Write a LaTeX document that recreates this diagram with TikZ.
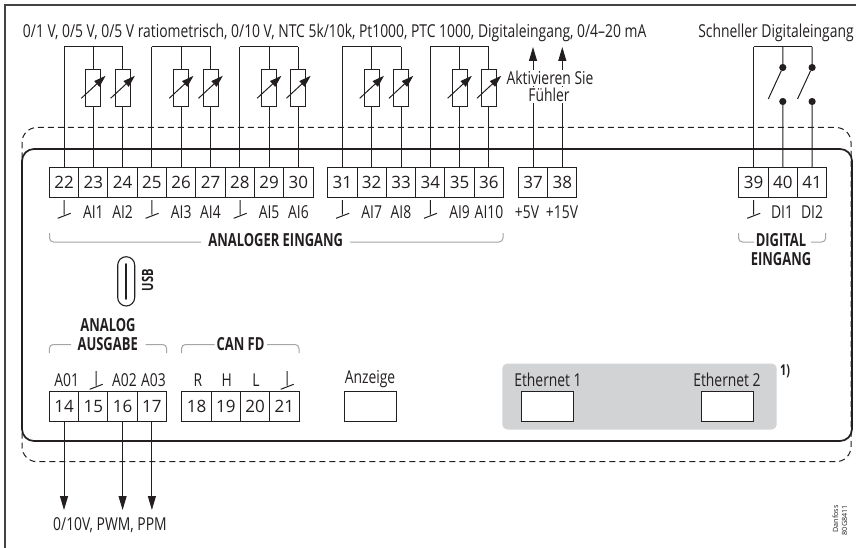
\documentclass[tikz,border=0pt]{standalone}
\usepackage{fontspec}
\usetikzlibrary{arrows.meta,calc}
\setmainfont{Open Sans}
\newfontfamily\cond[FakeStretch=0.78]{Open Sans}
\newfontfamily\condb[FakeStretch=0.72]{Open Sans Bold}
\definecolor{ink}{HTML}{231F20}
\definecolor{brk}{HTML}{A3A5A7}
\definecolor{greybox}{HTML}{D1D3D4}
\tikzset{
  ln/.style={draw=ink,line width=1pt},
  term/.style={draw=ink,line width=1pt,fill=white,minimum width=29.3pt,minimum height=29.8pt,inner sep=0pt,outer sep=0pt,text=ink,font=\fontsize{17}{18}\selectfont},
  res/.style={draw=ink,line width=1pt,fill=white,minimum width=15pt,minimum height=36.5pt,inner sep=0pt,outer sep=0pt},
  port/.style={draw=ink,line width=1pt,fill=white,minimum width=52.5pt,minimum height=29.8pt,inner sep=0pt,outer sep=0pt},
  lab/.style={inner sep=0pt,outer sep=0pt,anchor=base,text=ink,font=\fontsize{17.8}{19}\cond},
  blab/.style={inner sep=0pt,outer sep=0pt,anchor=base,text=ink,font=\fontsize{18}{19}\condb},
  vartip/.style={ln,-{Triangle[width=7.5pt,length=12pt]}},
  outarrow/.style={ln,-{Triangle[width=8pt,length=14pt]}},
  dot/.style={circle,fill=ink,minimum size=7.2pt,inner sep=0pt,outer sep=0pt},
  bracket/.style={draw=brk,line width=1pt,rounded corners=4pt},
  gndsym/.pic={\draw[ln] (0,0) -- (0,14.5) (-6.3,18.3) -- (6.7,13.3);}
}
\begin{document}
\begin{tikzpicture}[x=1pt,y=-1pt]
\useasboundingbox (0,0) rectangle (856,548);
% outer frame
\coordinate (fa) at (856,5); \coordinate (fb) at (5,5); \coordinate (fc) at (5,548);
\draw[draw=ink!85,line width=1.2pt] (fa) -- (fb) -- (fc);
% grey Ethernet zone
\path[fill=greybox,rounded corners=5pt] (502.3,363.5) rectangle (776.7,429.5);
% housing
\draw[ink,line width=1pt,dash pattern=on 6pt off 4pt,rounded corners=15pt] (22,127.5) rectangle (851,461.7);
\draw[ink,line width=1.7pt,rounded corners=12pt] (22,149) rectangle (852,441);
% terminals, row 1
\foreach \n/\x in {22/64,23/93.3,24/122.6,25/151.9,26/181.2,27/210.5,28/239.8,29/269.1,30/298.4,
  31/342.4,32/371.7,33/401,34/430.3,35/459.6,36/488.9,37/533,38/562.3,39/753.5,40/782.8,41/812.1}
  \node[term] (t\n) at (\x,182.7) {\n};
% terminals, row 2
\foreach \n/\x in {14/64,15/93.3,16/122.6,17/151.9,18/196.5,19/225.8,20/255.1,21/284.4}
  \node[term] (t\n) at (\x,406.8) {\n};
% bus tops
\foreach \n in {22,23,24,25,26,27,28,29,30,31,32,33,34,35,36,39,40,41}
  \coordinate (b\n) at (t\n.north |- 0,47);
\foreach \a/\b in {22/24,25/27,28/30,31/33,34/36,39/41} \draw[ln] (b\a) -- (b\b);
\foreach \n in {22,25,28,31,34,39} \draw[ln] (t\n.north) -- (b\n);
% variable resistors
\foreach \n in {23,24,26,27,29,30,32,33,35,36}{
  \node[res] (r\n) at (t\n.north |- 0,88) {};
  \draw[ln] (t\n.north) -- (r\n.south) (r\n.north) -- (b\n);
  \draw[vartip] ($(r\n.center)+(-12,10.3)$) -- ($(r\n.center)+(12.3,-12.2)$);
}
% sensor supply
\coordinate (u37) at (t37.north |- 0,47);
\coordinate (u38) at (t38.north |- 0,47);
\draw[outarrow] (t37.north) -- (u37);
\draw[outarrow] (t38.north) -- (u38);
\node[lab,fill=white,inner ysep=1pt] (aktiv) at (550,85) {Aktivieren Sie};
\node[lab,fill=white,inner ysep=1pt] (fuehl) at (549,101.7) {Fühler};
% switches
\foreach \n/\bx/\ex in {40/781.5/768.3,41/811/797.5}{
  \node[dot] (da\n) at (t\n.north |- 0,67.5) {};
  \node[dot] (db\n) at (t\n.north |- 0,101.5) {};
  \coordinate (e\n) at (\ex,99);
  \draw[ln] (b\n) -- (da\n) (db\n) -- (t\n.north) (da\n) -- (e\n);
}
% grounds
\foreach \x in {64,151.9,240,342.4,430.3,753.5} \pic at (\x,200) {gndsym};
\foreach \x in {96,287} \pic at (\x,371) {gndsym};
% row 1 labels
\foreach \t/\x/\s in {AI1/93.3/a1,AI2/122.6/a2,AI3/181.2/a3,AI4/210.5/a4,AI5/269.1/a5,AI6/298.4/a6,AI7/371.7/a7,AI8/401/a8,AI9/459.6/a9,AI10/489/a10,+5V/527/p5,+15V/562/p15,DI1/782/d1,DI2/812/d2}
  \node[lab] (l\s) at (\x,218.5) {\t};
% row 2 labels
\foreach \t/\x/\s in {A01/66.7/o1,A02/124.5/o2,A03/153.5/o3,R/198/r,H/226.7/h,L/256/l}
  \node[lab] (m\s) at (\x,386) {\t};
% headings
\node[lab,anchor=base west] (top1) at (23,38) {0/1 V, 0/5 V, 0/5 V ratiometrisch, 0/10 V, NTC 5k/10k, Pt1000, PTC 1000, Digitaleingang, 0/4–20 mA};
\node[lab] (top2) at (776,38) {Schneller Digitaleingang};
\node[lab] (bot) at (110,530.7) {0/10V, PWM, PPM};
\node[blab] (ae) at (275.7,246.7) {ANALOGER EINGANG};
\node[blab] (dig) at (781,246) {DIGITAL};
\node[blab] (ein) at (781,265) {EINGANG};
\node[blab] (ana) at (108,331.7) {ANALOG};
\node[blab] (aus) at (107.7,350.7) {AUSGABE};
\node[blab] (can) at (240.5,350.7) {CAN FD};
\node[lab] (anz) at (370,383) {Anzeige};
\node[lab] (e1) at (548,386.7) {Ethernet 1};
\node[lab] (e2) at (727,386.7) {Ethernet 2};
\node[blab,font=\fontsize{15}{16}\condb] (fn) at (785,375.7) {1)};
% brackets
\draw[bracket] (49.5,233) -- (49.5,242) -- (201,242);
\draw[bracket] (350,242) -- (503,242) -- (503,233);
\draw[bracket] (738.5,233) -- (738.5,242) -- (754,242);
\draw[bracket] (811,242) -- (825.7,242) -- (825.7,233);
\draw[bracket] (49.3,353) -- (49.3,344.5) -- (71,344.5);
\draw[bracket] (145.7,344.5) -- (166.7,344.5) -- (166.7,353);
\draw[bracket] (181.5,353) -- (181.5,344.5) -- (214.5,344.5);
\draw[bracket] (267,344.5) -- (299,344.5) -- (299,353);
% USB
\draw[ink,line width=1.1pt,rounded corners=8.5pt] (117.7,256.7) rectangle (134.7,306);
\coordinate (ua) at (126.2,264); \coordinate (ub) at (126.2,299);
\draw[ink,line width=1.6pt,line cap=round] (ua) -- (ub);
\node[blab,anchor=center,rotate=90,font=\fontsize{15.5}{16}\condb] (usb) at (147.5,280) {USB};
% ports
\node[port] (pa) at (370.3,406.8) {};
\node[port] (pb) at (547.5,406.8) {};
\node[port] (pc) at (727.5,406.8) {};
% outputs
\coordinate (o14) at (t14.south |- 0,510);
\coordinate (o16) at (t16.south |- 0,510);
\coordinate (o17) at (t17.south |- 0,510);
\draw[outarrow] (t14.south) -- (o14);
\draw[outarrow] (t16.south) -- (o16);
\draw[outarrow] (t17.south) -- (o17);
% code
\node[inner sep=0pt,anchor=base east,rotate=90,text=ink,font=\fontsize{7.2}{8}\selectfont] (dan) at (838,505) {Danfoss};
\node[inner sep=0pt,anchor=base east,rotate=90,text=ink,font=\fontsize{7.2}{8}\selectfont] (cod) at (847,505) {80G8411};
\end{tikzpicture}
\end{document}
